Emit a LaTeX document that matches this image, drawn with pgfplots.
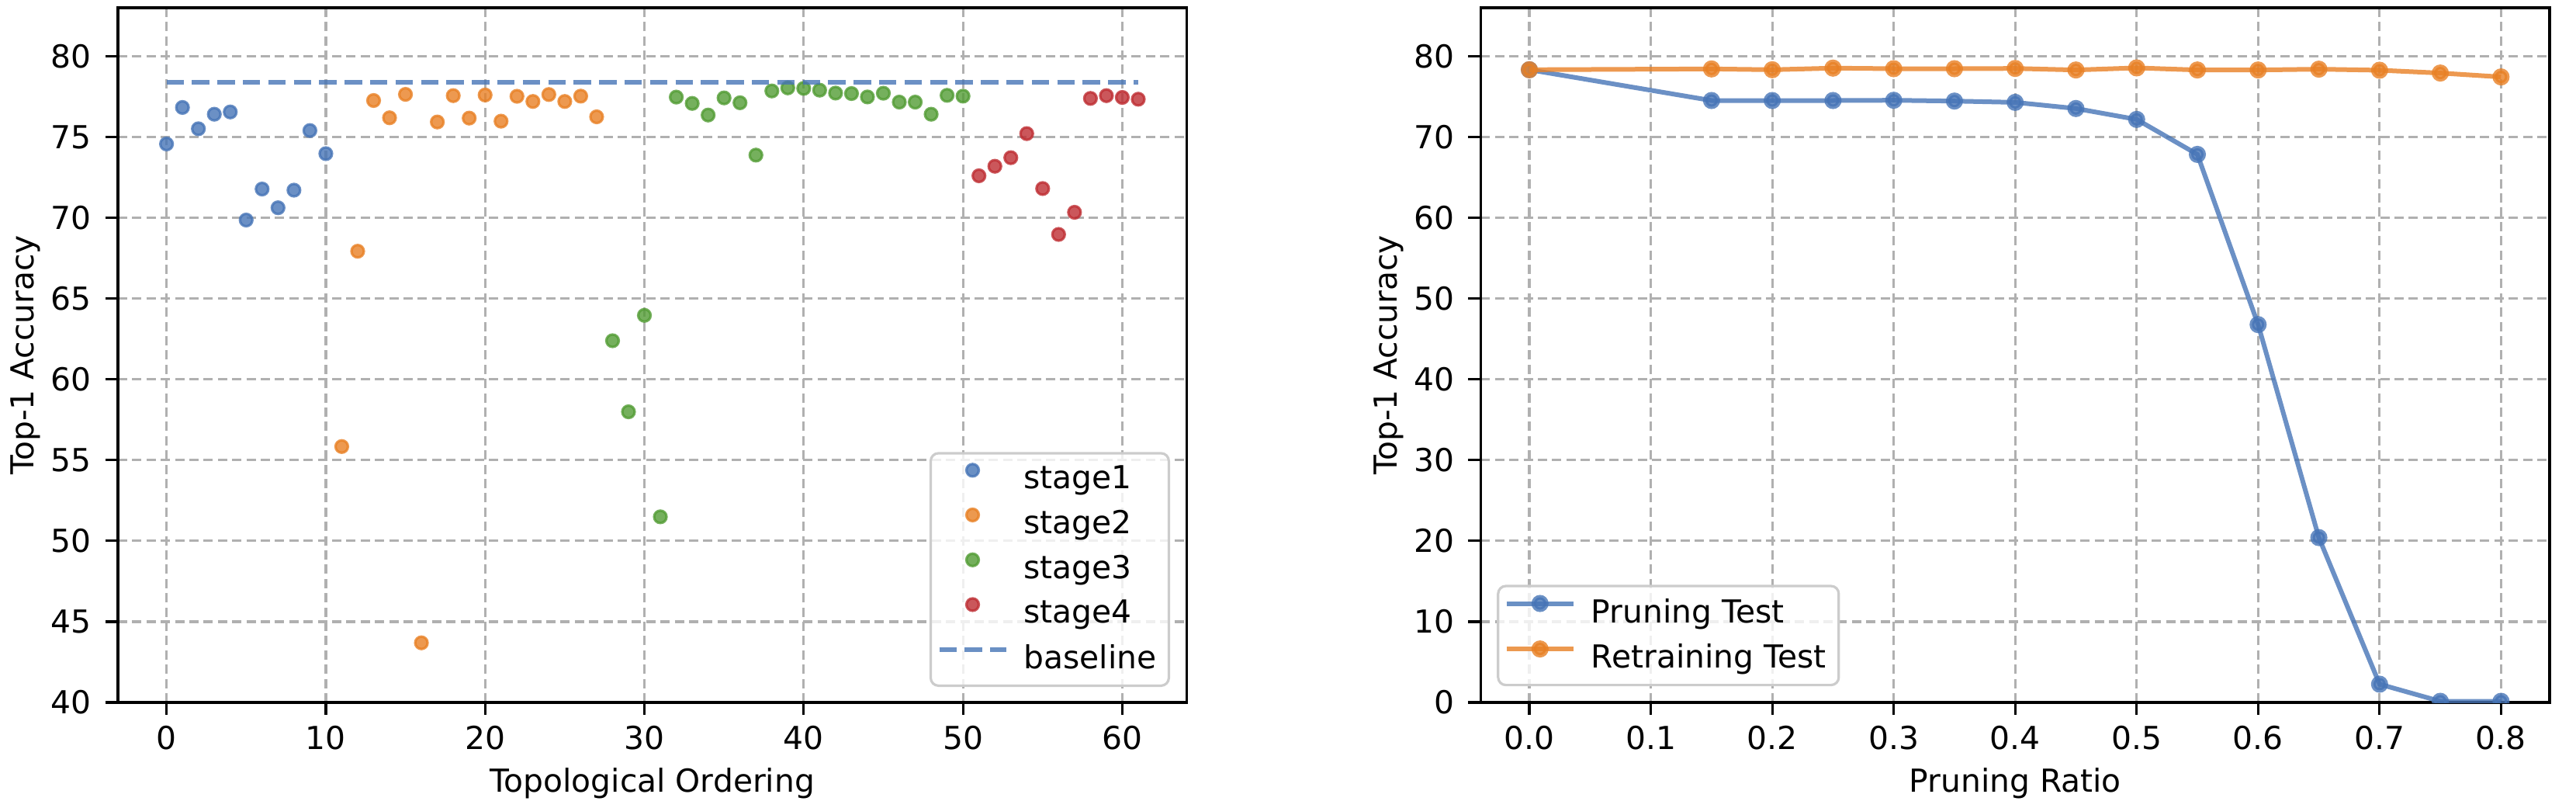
\documentclass[border=0pt]{standalone}
\usepackage{fontspec}
\setmainfont{DejaVu Sans}
\usepackage{pgfplots}
\pgfplotsset{compat=1.18}
\definecolor{cA}{RGB}{70,116,182}
\definecolor{cB}{RGB}{232,128,36}
\definecolor{cC}{RGB}{82,156,52}
\definecolor{cD}{RGB}{190,45,50}
\definecolor{gridc}{RGB}{176,176,176}
\definecolor{legc}{RGB}{204,204,204}
\pgfplotsset{
  mystyle/.style={
    scale only axis, width=344.4pt, height=223.75pt, anchor=south west,
    axis line style={line width=0.8pt, black},
    tick align=outside, tick pos=left,
    major tick length=4pt,
    every tick/.style={black, line width=0.8pt},
    grid=major,
    major grid style={line width=0.8pt, color=gridc, dash pattern=on 3pt off 1.6pt},
    tick label style={font=\fontsize{10.2}{12}\selectfont},
    yticklabel style={xshift=-1pt},
    label style={font=\fontsize{10.2}{12}\selectfont},
    /pgf/number format/assume math mode=true,
    ylabel style={at={(axis description cs:-0.0864,0.5)}, anchor=center},
    xlabel style={at={(axis description cs:0.5,-0.1286)}, anchor=base},
    clip marker paths=true,
    legend cell align=left,
    legend image code/.code={\path (0pt,0.3em) (24.5pt,0.3em);\draw[mark repeat=2,mark phase=2,#1] plot coordinates {(0pt,0.3em)(10.75pt,0.3em)(21.5pt,0.3em)};},
    legend style={draw=legc, line width=0.8pt, rounded corners=2.5pt, fill=white, fill opacity=0.8, text opacity=1,
      inner sep=2pt, row sep=1.4pt, nodes={inner sep=2pt},
      font=\fontsize{10.2}{12}\selectfont},
  },
  scat/.style={only marks, mark=*, mark size=2pt, mark options={fill=#1, draw=#1, opacity=0.8, line width=0.8pt}},
}
\begin{document}
\begin{tikzpicture}
\useasboundingbox (0,0) rectangle (830pt,260pt);
\begin{axis}[mystyle, at={(38pt,33.75pt)},
  xmin=-3.05, xmax=64.05, ymin=40, ymax=83,
  xtick={0,10,20,30,40,50,60}, ytick={40,45,50,55,60,65,70,75,80},
  xlabel={Topological Ordering}, ylabel={Top-1 Accuracy},
  legend style={at={(rel axis cs:1,0)}, anchor=south east, xshift=-5.4pt, yshift=5pt},
]
\addplot[scat=cA] coordinates {(0,74.57)(1,76.83)(2,75.51)(3,76.41)(4,76.55)(5,69.86)(6,71.78)(7,70.62)(8,71.71)(9,75.40)(10,73.97)};
\addlegendentry{stage1}
\addplot[scat=cB] coordinates {(11,55.84)(12,67.93)(13,77.26)(14,76.19)(15,77.64)(16,43.69)(17,75.93)(18,77.56)(19,76.17)(20,77.60)(21,75.98)(22,77.52)(23,77.20)(24,77.63)(25,77.20)(26,77.53)(27,76.25)};
\addlegendentry{stage2}
\addplot[scat=cC] coordinates {(28,62.39)(29,57.99)(30,63.96)(31,51.49)(32,77.47)(33,77.08)(34,76.36)(35,77.42)(36,77.12)(37,73.88)(38,77.85)(39,78.04)(40,78.01)(41,77.90)(42,77.72)(43,77.69)(44,77.48)(45,77.71)(46,77.16)(47,77.16)(48,76.41)(49,77.58)(50,77.53)};
\addlegendentry{stage3}
\addplot[scat=cD] coordinates {(51,72.60)(52,73.19)(53,73.72)(54,75.21)(55,71.81)(56,68.97)(57,70.34)(58,77.39)(59,77.56)(60,77.45)(61,77.34)};
\addlegendentry{stage4}
\addplot[cA, line width=1.5pt, opacity=0.8, dash pattern=on 5.6pt off 2.6pt, mark=none] coordinates {(0,78.4)(61,78.4)};
\addlegendentry{baseline\vphantom{g}}
\end{axis}
\begin{axis}[mystyle, at={(477.1pt,33.75pt)},
  xmin=-0.04, xmax=0.84, ymin=0, ymax=86,
  xtick={0,0.1,0.2,0.3,0.4,0.5,0.6,0.7,0.8}, ytick={0,10,20,30,40,50,60,70,80},
  xticklabel style={/pgf/number format/.cd, fixed, fixed zerofill, precision=1},
  xlabel={Pruning Ratio}, ylabel={Top-1 Accuracy},
  legend style={at={(rel axis cs:0,0)}, anchor=south west, xshift=5.2pt, yshift=5.2pt},
]
\addplot[cA, line width=1.5pt, opacity=0.8, mark=*, mark size=2pt, mark options={solid, fill=cA, draw=cA}] coordinates {(0,78.33)(0.15,74.52)(0.2,74.52)(0.25,74.52)(0.3,74.55)(0.35,74.45)(0.4,74.29)(0.45,73.53)(0.5,72.18)(0.55,67.85)(0.6,46.78)(0.65,20.41)(0.7,2.26)(0.75,0.14)(0.8,0.14)};
\addlegendentry{Pruning Test}
\addplot[cB, line width=1.5pt, opacity=0.8, mark=*, mark size=2pt, mark options={solid, fill=cB, draw=cB}] coordinates {(0,78.33)(0.15,78.43)(0.2,78.33)(0.25,78.53)(0.3,78.46)(0.35,78.46)(0.4,78.49)(0.45,78.30)(0.5,78.56)(0.55,78.30)(0.6,78.30)(0.65,78.40)(0.7,78.27)(0.75,77.92)(0.8,77.44)};
\addlegendentry{Retraining Test}
\end{axis}
\end{tikzpicture}
\end{document}
